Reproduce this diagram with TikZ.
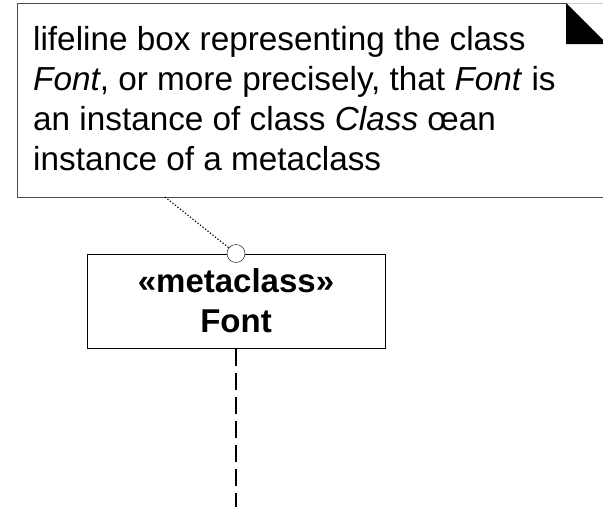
\documentclass[tikz,border=0pt]{standalone}
\usepackage{fontspec}
\setmainfont{Liberation Sans}
\usetikzlibrary{positioning}
\tikzset{
  texto/.style={inner sep=0pt,align=left,font=\fontsize{33.3}{40}\selectfont},
  caja/.style={draw,line width=1pt,minimum width=298pt,minimum height=94pt,align=center,
    inner sep=0pt,font=\fontsize{33}{40}\selectfont\bfseries},
  ancla/.style={circle,draw,fill=white,inner sep=0pt,minimum size=18pt},
  vida/.style={line width=1.3pt,dash pattern=on 17pt off 7pt}
}

\begin{document}
\begin{tikzpicture}[x=1pt,y=-1pt]
    \useasboundingbox (0,0) rectangle (603,507);
    % nota con la esquina doblada
    \draw[gray!60!black,line width=1pt] (566,3) -- (17,3) -- (17,197) -- (620,197);
    \draw[gray!40] (566,3) -- (603,3);
    \fill (566,3) -- (566,44) -- (607,44) -- cycle;
    \node[texto,anchor=north west] (nota) at (33,26)
      {lifeline box representing the class\\
       \textit{Font}, or more precisely, that \textit{Font} is\\
       an instance of class \textit{Class} œan\\
       instance of a metaclass};
    \coordinate (notapie) at (165,197);

    % caja de la linea de vida
    \node[caja] (clase) at (236,301) {«metaclass»\\ Font};
    \node[ancla] (punto) at (clase.north) {};
    \draw[line width=1.2pt,dash pattern=on 1.2pt off 2pt] (notapie) -- (punto);
    \coordinate (fin) at (236,507);
    \draw[vida] (clase.south) -- (fin);
  \end{tikzpicture}
\end{document}
